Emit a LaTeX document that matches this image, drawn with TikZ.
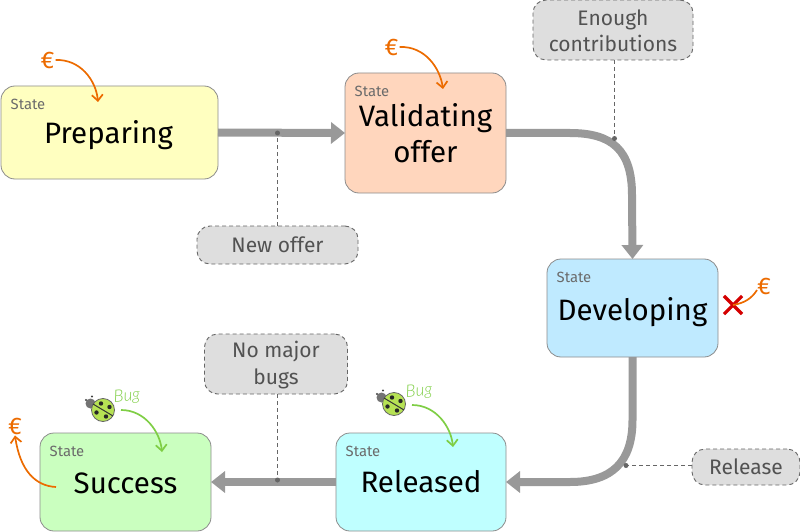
\documentclass[tikz,border=0pt]{standalone}
\usepackage{fontspec}
\setmainfont{Fira Sans}
\newfontfamily\bugfont{Lato Light}[ItalicFont={Lato Light Italic}]
\usetikzlibrary{arrows.meta,shapes.misc}
\definecolor{flowgrey}{HTML}{999999}
\definecolor{euroc}{HTML}{EC6B00}
\definecolor{bugc}{HTML}{7FCE45}
\tikzset{
  statebox/.style={draw=black!45,line width=0.8pt,rounded corners=14pt,inner sep=0pt,outer sep=0pt,align=center,font=\fontsize{29.5}{36}\selectfont},
  statetag/.style={inner sep=0pt,text=black!58,font=\fontsize{14.8}{16}\selectfont},
  flow/.style={draw=flowgrey,line width=8pt,-{Triangle[length=14pt,width=21pt]}},
  notebox/.style={draw=black!60,dash pattern=on 4pt off 3pt,line width=0.9pt,fill=black!13,rounded corners=13pt,inner sep=0pt,outer sep=0pt,align=center,text=black!68,font=\fontsize{21}{26}\selectfont},
  noteline/.style={draw=black!60,dash pattern=on 4pt off 3pt,line width=0.9pt},
  notedot/.style={circle,fill=black!60,inner sep=0pt,minimum size=5pt},
  eurolabel/.style={inner sep=1pt,text=euroc,font=\fontsize{24}{26}\selectfont},
  moneyline/.style={draw=euroc,line width=1.7pt,-{Straight Barb[length=6pt,width=11pt]}},
  buglabel/.style={inner sep=0pt,text=bugc,font=\bugfont\itshape\fontsize{17}{20}\selectfont},
  bugline/.style={draw=bugc,line width=1.7pt,-{Straight Barb[length=6pt,width=11pt]}},
  pics/ladybug/.style={code={
    \fill[black!55] (-12.5,-6.5) circle (5);
    \fill[black!75] (-17,-10) circle (1.2) (-11,-13.5) circle (1.2);
    \draw[black!60,fill={rgb,255:red,182;green,226;blue,84},line width=0.8pt] (0,0) circle (11.5);
    \draw[black!80,line width=1pt] (-10,-6) -- (10,6);
    \fill[black!85] (-2,-6.5) circle (2.2) (6.5,-3) circle (2.2) (-6.5,2.5) circle (2.2) (3,6.5) circle (2.2);
  }}
}
\begin{document}
\begin{tikzpicture}[x=1pt,y=-1pt]
\useasboundingbox (0,0) rectangle (800,532);

% states
\node[statebox,fill={rgb,255:red,255;green,255;blue,192},minimum width=217pt,minimum height=93pt,text height=27pt,text depth=6pt] (prep) at (109.5,132.5) {\hspace{-2pt}Preparing};
\node[statebox,fill={rgb,255:red,255;green,214;blue,189},minimum width=161pt,minimum height=120pt] (valid) at (425.5,133) {\rule{0pt}{23pt}Validating\\offer};
\node[statebox,fill={rgb,255:red,191;green,234;blue,255},minimum width=171pt,minimum height=98pt,text height=30pt,text depth=6pt] (dev) at (632.5,308) {Developing};
\node[statebox,fill={rgb,255:red,191;green,255;blue,255},minimum width=170pt,minimum height=98pt,text height=26pt,text depth=6pt] (rel) at (421,482) {Released};
\node[statebox,fill={rgb,255:red,202;green,255;blue,191},minimum width=171pt,minimum height=98pt,text height=28pt,text depth=6pt] (succ) at (125.5,482) {Success};
\node[statetag] (tag1) at (28,104) {State};
\node[statetag] (tag2) at (372,91) {State};
\node[statetag] (tag3) at (574,277) {State};
\node[statetag] (tag4) at (363,451) {State};
\node[statetag] (tag5) at (67,451) {State};

% main flow
\draw[flow] (prep.east) -- (valid.west);
\coordinate (a1) at (570,133);
\coordinate (a2) at (632,195);
\draw[flow] (valid.east) -- (a1) .. controls (612,133) and (632,150) .. (a2) -- (dev.north);
\coordinate (b1) at (632.5,420);
\coordinate (b2) at (570,482);
\draw[flow] (dev.south) -- (b1) .. controls (632.5,462) and (612,482) .. (b2) -- (rel.east);
\draw[flow] (rel.west) -- (succ.east);

% notes
\node[notebox,minimum width=161pt,minimum height=38pt] (n1) at (277.5,245) {New offer};
\node[notebox,minimum width=160pt,minimum height=60pt] (n2) at (613,30) {\rule{0pt}{17pt}Enough\\contributions};
\node[notebox,minimum width=143pt,minimum height=60pt] (n3) at (276,364) {\rule{0pt}{18pt}No major\\[1pt]bugs};
\node[notebox,minimum width=108pt,minimum height=36pt] (n4) at (746,467) {Release};
\node[notedot] (d1) at (277.5,133) {};
\node[notedot] (d2) at (614.5,138.5) {};
\node[notedot] (d3) at (277.5,480) {};
\node[notedot] (d4) at (626,465.5) {};
\draw[noteline] (n1.north -| d1) -- (d1.center);
\draw[noteline] (n2.south -| d2) -- (d2.center);
\draw[noteline] (n3.south -| d3) -- (d3.center);
\draw[noteline] (n4.west |- d4) -- (d4.center);

% money
\node[eurolabel] (e1) at (47.5,60) {€};
\coordinate (e1t) at (98,102);
\draw[moneyline] (e1.east) .. controls (80,59) and (96,80) .. (e1t);
\node[eurolabel] (e2) at (391.5,47) {€};
\coordinate (e2t) at (443,89);
\draw[moneyline] (e2.east) .. controls (425,46) and (440,68) .. (e2t);
\node[eurolabel] (e3) at (764,286) {€};
\node[draw={rgb,255:red,212;green,0;blue,0},cross out,line width=3.2pt,minimum size=15pt,inner sep=0pt] (x) at (733,305) {};
\coordinate (e3s) at (757,290);
\draw[draw=euroc,line width=1.7pt] (e3s) .. controls (752,298) and (745,303) .. (x.center);
\node[eurolabel] (e4) at (15,426) {€};
\coordinate (e4s) at (56,487);
\draw[moneyline] (e4s) .. controls (35,486) and (20,470) .. (e4.south);

% bugs
\pic at (103,410) {ladybug};
\pic at (394,404) {ladybug};
\node[buglabel,rotate=5] (b1l) at (127,397) {Bug};
\node[buglabel,rotate=5] (b2l) at (419,392) {Bug};
\coordinate (b1s) at (121,410);
\coordinate (b1t) at (162,452);
\draw[bugline] (b1s) .. controls (145,410) and (160,432) .. (b1t);
\coordinate (b2s) at (412,405);
\coordinate (b2t) at (453,447);
\draw[bugline] (b2s) .. controls (436,405) and (451,427) .. (b2t);
\end{tikzpicture}
\end{document}
